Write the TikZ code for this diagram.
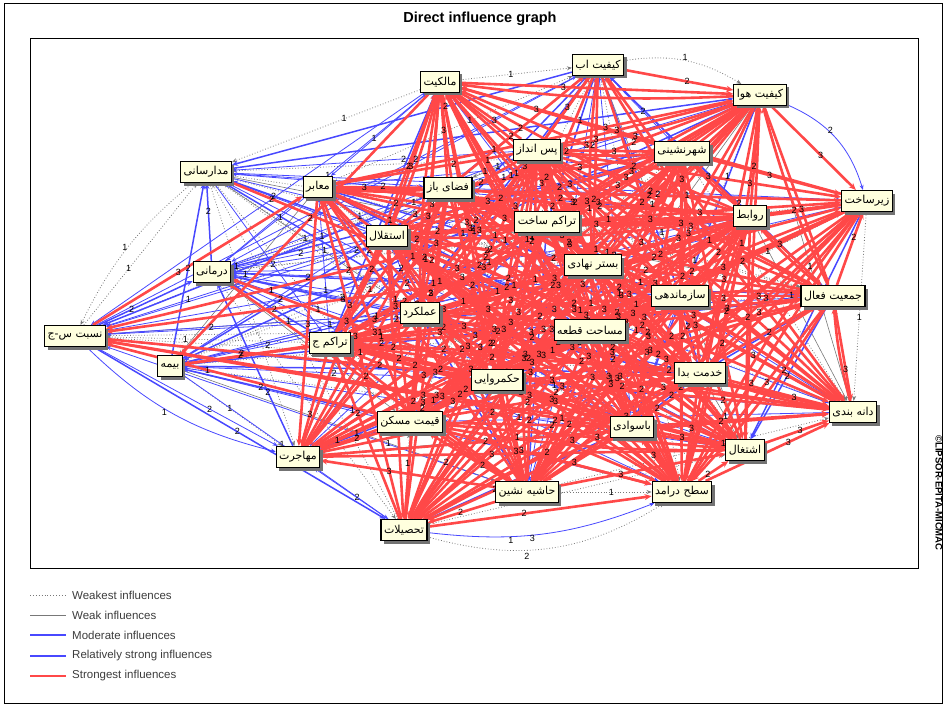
\documentclass[tikz,border=0pt]{standalone}
\usepackage{fontspec}
\setmainfont{Liberation Sans}
\newfontfamily\fa[Script=Arabic]{DejaVu Sans}
\TeXXeTstate=1
\usetikzlibrary{arrows.meta,shadows}
\definecolor{redE}{RGB}{255,72,72}
\definecolor{blueE}{RGB}{72,72,255}
\definecolor{grayE}{RGB}{120,120,120}
\definecolor{boxY}{RGB}{255,255,222}
\definecolor{legT}{RGB}{60,60,60}
\pgfdeclarelayer{ga}\pgfdeclarelayer{gb}\pgfdeclarelayer{gc}\pgfdeclarelayer{gn}
\pgfsetlayers{ga,gb,gc,gn,main}
\newcommand\fatxt[1]{\beginR #1\endR}
\tikzset{
 nb/.style={draw=black,line width=1.1pt,fill=boxY,inner sep=3pt,minimum height=21pt,font=\fa\fontsize{11}{13}\selectfont,drop shadow={shadow xshift=3pt,shadow yshift=-3pt,fill=black!55,opacity=1}},
 eR/.style={draw=redE,line width=2.6pt,-{Stealth[length=7pt,width=6pt]}},
 eBs/.style={draw=blueE,line width=1.5pt,-{Stealth[length=6pt,width=5pt]}},
 eB/.style={draw=blueE,line width=0.8pt,-{Stealth[length=5pt,width=4pt]}},
 eG/.style={draw=grayE,line width=0.8pt,dotted,-{Stealth[length=5pt,width=4pt]}},
 eW/.style={draw=grayE,line width=0.6pt,-{Stealth[length=5pt,width=4pt]}},
 num/.style={font=\fontsize{9}{9}\selectfont,inner sep=0pt,text=black},
 legtxt/.style={anchor=west,font=\fontsize{11.5}{13}\selectfont,text=legT,inner sep=0pt},
}
\newcommand\NL{kab/2,khava/2,malk/2,madar/1,maab/2,pas/3,shahr/3,fazaa/3,zir/2,rav/3,trs/3,esteq/3,darm/1,bastar/3,saz/3,jam/2,amal/3,trj/3,masa/3,nesb/1,bime/1,khed/3,hokm/3,dane/2,qeym/3,basav/3,esht/3,mohaj/2,hash/3,sath/3,tahs/2}
\newcommand\edgepass[1]{%
\pgfmathsetseed{11}%
\foreach \a/\wa [count=\i] in \NL {
  \foreach \b/\wb [count=\j] in \NL {
    \ifnum\j>\i
      \pgfmathrandominteger{\r}{1}{100}%
      \pgfmathrandominteger{\d}{0}{1}%
      \pgfmathrandominteger{\q}{1}{3}%
      \pgfmathsetmacro{\p}{0.3+0.4*rnd}%
      \pgfmathtruncatemacro{\w}{min(\wa,\wb)}%
      \pgfmathtruncatemacro{\tR}{\w==1?15:(\w==2?58:80)}%
      \pgfmathtruncatemacro{\tB}{\w==1?45:(\w==2?72:87)}%
      \pgfmathtruncatemacro{\tS}{\w==1?58:(\w==2?80:92)}%
      \pgfmathtruncatemacro{\tG}{\w==1?85:(\w==2?92:96)}%
      \pgfmathtruncatemacro{\tW}{\w==1?92:(\w==2?95:98)}%
      \ifnum\d=1 \edef\s{\a}\edef\t{\b}\else\edef\s{\b}\edef\t{\a}\fi
      \def\cls{0}%
      \ifnum\r<\tR \def\cls{1}\def\lab{\ifnum\q<3 3\else 2\fi}%
      \else\ifnum\r<\tB \def\cls{2}\def\lab{\ifnum\q<2 1\else 2\fi}%
      \else\ifnum\r<\tS \def\cls{3}\def\lab{2}%
      \else\ifnum\r<\tG \def\cls{4}\def\lab{1}%
      \else\ifnum\r<\tW \def\cls{5}\def\lab{1}%
      \fi\fi\fi\fi\fi
      \ifnum#1=\cls
        \ifcase\cls\or \draw[eR] (\s) -- (\t);\ifnum\q=1 \ifnum\w>1 \draw[eR] (\t) to[bend left=5] (\s);\fi\fi
        \or \draw[eB] (\s) -- (\t);\or \draw[eBs] (\s) -- (\t);\or \draw[eG] (\s) -- (\t);\or \draw[eW] (\s) -- (\t);\fi
      \fi
      \ifnum#1=9 \ifnum\cls>0 \path (\s) -- (\t) node[num,pos=\p] {\lab};\fi\fi
    \fi
  }
}}
\begin{document}
\begin{tikzpicture}[x=1pt,y=-1pt]
\useasboundingbox (0,0) rectangle (947,706);
\draw[line width=0.8pt] (4,3) rectangle (942,703);
\node[font=\bfseries\fontsize{14.5}{16}\selectfont] (title) at (480,19) {Direct influence graph};
\draw[line width=0.6pt] (30,38) rectangle (918,568);
\node[rotate=-90,font=\bfseries\fontsize{9.5}{10}\selectfont] (copy) at (939,493) {©LIPSOR-EPITA-MICMAC};

% nodes
\node[nb] (kab)   at (598,65)  {\fatxt{کیفیت اب}};
\node[nb] (khava) at (760,95)  {\fatxt{کیفیت هوا}};
\node[nb] (malk)  at (440,82)  {\fatxt{مالکیت}};
\node[nb] (madar) at (206,172) {\fatxt{مدارسانی}};
\node[nb] (maab)  at (318,187) {\fatxt{معابر}};
\node[nb] (pas)   at (537,150) {\fatxt{پس انداز}};
\node[nb] (shahr) at (682,152) {\fatxt{شهرنشینی}};
\node[nb] (fazaa) at (448,188) {\fatxt{فضای باز}};
\node[nb] (zir)   at (867,201) {\fatxt{زیرساخت}};
\node[nb] (rav)   at (750,216) {\fatxt{روابط}};
\node[nb] (trs)   at (547,222) {\fatxt{تراکم ساخت}};
\node[nb] (esteq) at (387,236) {\fatxt{استقلال}};
\node[nb] (darm)  at (212,272) {\fatxt{درمانی}};
\node[nb] (bastar) at (593,265) {\fatxt{بستر نهادی}};
\node[nb] (saz)   at (680,296) {\fatxt{سازماندهی}};
\node[nb] (jam)   at (833,296) {\fatxt{جمعیت فعال}};
\node[nb] (amal)  at (420,313) {\fatxt{عملکرد}};
\node[nb] (trj)   at (330,343) {\fatxt{تراکم ج}};
\node[nb] (masa)  at (590,330) {\fatxt{مساحت قطعه}};
\node[nb] (nesb)  at (75,336)  {\fatxt{نسبت س-ج}};
\node[nb] (bime)  at (170,366) {\fatxt{بیمه}};
\node[nb] (khed)  at (700,373) {\fatxt{خدمت بدا}};
\node[nb] (hokm)  at (497,380) {\fatxt{حکمروایی}};
\node[nb] (dane)  at (853,412) {\fatxt{دانه بندی}};
\node[nb] (qeym)  at (410,422) {\fatxt{قیمت مسکن}};
\node[nb] (basav) at (632,427) {\fatxt{باسوادی}};
\node[nb] (esht)  at (745,450) {\fatxt{اشتغال}};
\node[nb] (mohaj) at (298,457) {\fatxt{مهاجرت}};
\node[nb] (hash)  at (527,492) {\fatxt{حاشیه نشین}};
\node[nb] (sath)  at (682,492) {\fatxt{سطح درامد}};
\node[nb] (tahs)  at (404,530) {\fatxt{تحصیلات}};

% edges, one layer per class
\begin{pgfonlayer}{ga}
\edgepass{4}\edgepass{5}
\draw[eG] (tahs) to[bend right=24] node[num,pos=0.4,below=3pt] {2} (sath);
\draw[eG] (madar) to[bend right=12] node[num,pos=0.5,left] {1} (nesb);
\draw[eG] (kab) to[bend left=20] node[num,pos=0.5,above] {1} (khava);
\end{pgfonlayer}
\begin{pgfonlayer}{gb}
\edgepass{2}\edgepass{3}
\draw[eB] (tahs) to[bend right=14] node[num,pos=0.35,below] {1} node[num,pos=0.45,below] {3} (sath);
\draw[eB] (khava) to[bend left=25] node[num,pos=0.4,right] {2} (zir);
\draw[eB] (nesb) to[bend right=15] node[num,pos=0.45,below] {1} (mohaj);
\end{pgfonlayer}
\begin{pgfonlayer}{gc}
\edgepass{1}
\end{pgfonlayer}
\begin{pgfonlayer}{gn}
\edgepass{9}
\end{pgfonlayer}

% legend
\coordinate (la1) at (30,595); \coordinate (lb1) at (66,595);
\coordinate (la2) at (30,615); \coordinate (lb2) at (66,615);
\coordinate (la3) at (30,635); \coordinate (lb3) at (66,635);
\coordinate (la4) at (30,656); \coordinate (lb4) at (66,656);
\coordinate (la5) at (30,676); \coordinate (lb5) at (66,676);
\draw[draw=grayE,line width=0.9pt,dotted] (la1) -- (lb1);
\draw[draw=grayE,line width=0.8pt] (la2) -- (lb2);
\draw[draw=blueE,line width=1.1pt] (la3) -- (lb3);
\draw[draw=blueE,line width=2pt] (la4) -- (lb4);
\draw[draw=redE,line width=2.8pt] (la5) -- (lb5);
\node[legtxt] (t1) at (72,595) {Weakest influences};
\node[legtxt] (t2) at (72,615) {Weak influences};
\node[legtxt] (t3) at (72,635) {Moderate influences};
\node[legtxt] (t4) at (72,656) {Relatively strong influences};
\node[legtxt] (t5) at (72,676) {Strongest influences};
\end{tikzpicture}
\end{document}
